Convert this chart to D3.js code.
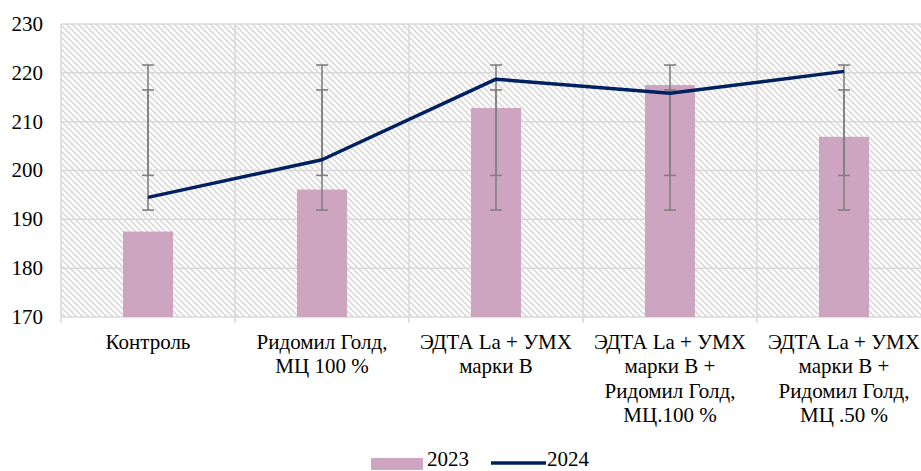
<!DOCTYPE html>
<html>
<head>
<meta charset="utf-8">
<script src="https://cdn.jsdelivr.net/npm/d3@7"></script>
<style>
  svg text { font-family: "Times New Roman", "Liberation Serif", Tinos, serif; }
</style>
</head>
<body style="margin:0">
<svg id="chart" width="921" height="471" font-family="Liberation Serif, Times New Roman, serif"></svg>
<script>
/* DATA */
const categories = ["Контроль", "Ридомил Голд, МЦ 100 %", "ЭДТА La + УМХ марки В",
  "ЭДТА La + УМХ марки В + Ридомил Голд, МЦ.100 %", "ЭДТА La + УМХ марки В + Ридомил Голд, МЦ .50 %"]
const categoryLines = [
  ["Контроль"],
  ["Ридомил Голд,", "МЦ 100 %"],
  ["ЭДТА La + УМХ", "марки В"],
  ["ЭДТА La + УМХ", "марки В +", "Ридомил Голд,", "МЦ.100 %"],
  ["ЭДТА La + УМХ", "марки В +", "Ридомил Голд,", "МЦ .50 %"]
]
const values2023 = [187.5, 196.1, 212.8, 217.5, 206.9]
const values2024 = [194.5, 202.2, 218.7, 215.8, 220.3]
// error bar ends (same for every category)
const err2023 = [199.0, 216.5]
const err2024 = [191.9, 221.6]
const yTicks = [170, 180, 190, 200, 210, 220, 230]
const seriesNames = ["2023", "2024"]

/* CONSTANTS */
const plotLeft = 61,
    plotRight = 931,
    plotTop = 24,
    plotBottom = 317,
    fontFam = "Times New Roman, Liberation Serif, serif";

const svg = d3.select("#chart")

// hatch pattern
svg.append("defs").append("pattern")
    .attr("id", "hatch")
    .attr("patternUnits", "userSpaceOnUse")
    .attr("width", 6)
    .attr("height", 6)
    .append("path")
    .attr("d", "M-1,-1 L7,7 M-1,5 L1,7 M5,-1 L7,1")
    .attr("stroke", "#dadada")
    .attr("stroke-width", 1.6)

// SCALES
const xScale = d3.scaleBand()
    .domain(categories)
    .range([plotLeft, plotRight])
    .padding(0)

const yScale = d3.scaleLinear()
    .domain([170, 230])
    .range([plotBottom, plotTop])

const mid = c => xScale(c) + xScale.bandwidth() / 2

// background
svg.append("rect")
    .attr("x", plotLeft)
    .attr("y", plotTop)
    .attr("width", plotRight - plotLeft)
    .attr("height", plotBottom - plotTop)
    .attr("fill", "url(#hatch)")

// GRID
svg.append("g")
    .selectAll("line")
    .data(yTicks)
    .join("line")
    .attr("x1", plotLeft)
    .attr("x2", plotRight)
    .attr("y1", d => yScale(d))
    .attr("y2", d => yScale(d))
    .attr("stroke", "#d9d9d9")
    .attr("stroke-width", 1.5)

svg.append("g")
    .selectAll("line")
    .data(categories.map(c => xScale(c)).concat([plotRight]))
    .join("line")
    .attr("x1", d => d)
    .attr("x2", d => d)
    .attr("y1", plotTop)
    .attr("y2", plotBottom + 6)
    .attr("stroke", "#d9d9d9")
    .attr("stroke-width", 1.5)

// Y AXIS LABELS
svg.append("g")
    .selectAll("text")
    .data(yTicks)
    .join("text")
    .attr("x", 43)
    .attr("y", d => yScale(d))
    .attr("dy", "0.33em")
    .attr("text-anchor", "end")
    .attr("font-family", fontFam)
    .attr("font-size", 21)
    .text(d => d)

// BARS
const barWidth = 50
svg.append("g")
    .selectAll("rect")
    .data(values2023)
    .join("rect")
    .attr("x", (d, i) => mid(categories[i]) - barWidth / 2)
    .attr("y", d => yScale(d))
    .attr("width", barWidth)
    .attr("height", d => plotBottom - yScale(d))
    .attr("fill", "#cea5c1")

// ERROR BARS
const errGroup = svg.append("g")
    .attr("stroke", "#808080")
    .attr("stroke-width", 1.6)
const cap = 6
categories.forEach(c => {
    const cx = mid(c)
    ;[err2023, err2024].forEach(e => {
        errGroup.append("line")
            .attr("x1", cx).attr("x2", cx)
            .attr("y1", yScale(e[0])).attr("y2", yScale(e[1]))
        e.forEach(v => {
            errGroup.append("line")
                .attr("x1", cx - cap).attr("x2", cx + cap)
                .attr("y1", yScale(v)).attr("y2", yScale(v))
        })
    })
})

// LINE
const line = d3.line()
    .x((d, i) => mid(categories[i]))
    .y(d => yScale(d))
svg.append("path")
    .datum(values2024)
    .attr("d", line)
    .attr("fill", "none")
    .attr("stroke", "#002060")
    .attr("stroke-width", 3.5)
    .attr("stroke-linejoin", "round")

// CATEGORY LABELS
const labelRows = []
categoryLines.forEach((lines, i) => lines.forEach((l, j) => labelRows.push({ c: categories[i], l: l, j: j })))
svg.append("g")
    .selectAll("text")
    .data(labelRows)
    .join("text")
    .attr("x", d => mid(d.c))
    .attr("y", d => 348.5 + d.j * 24.5)
    .attr("text-anchor", "middle")
    .attr("font-family", fontFam)
    .attr("font-size", 21)
    .text(d => d.l)

// LEGEND
svg.append("rect")
    .attr("x", 371)
    .attr("y", 458)
    .attr("width", 52)
    .attr("height", 12)
    .attr("fill", "#cea5c1")
svg.append("line")
    .attr("x1", 491)
    .attr("x2", 546)
    .attr("y1", 463)
    .attr("y2", 463)
    .attr("stroke", "#002060")
    .attr("stroke-width", 3.5)
svg.append("g")
    .selectAll("text")
    .data(seriesNames)
    .join("text")
    .attr("x", (d, i) => [427, 547][i])
    .attr("y", 466)
    .attr("font-family", fontFam)
    .attr("font-size", 21)
    .text(d => d)
</script>
</body>
</html>
